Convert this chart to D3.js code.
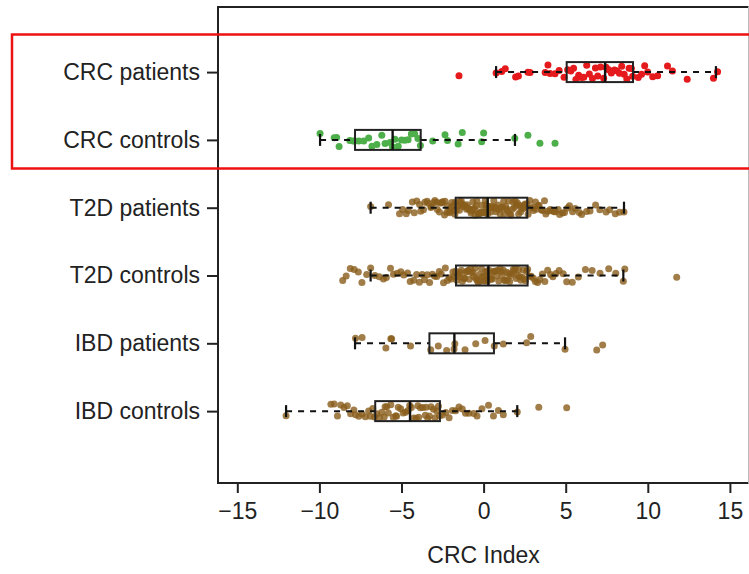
<!DOCTYPE html>
<html>
<head>
<meta charset="utf-8">
<script src="https://cdn.jsdelivr.net/npm/d3@7"></script>
<style>
  html, body { margin: 0; padding: 0; background: #fff; }
  svg { display: block; }
  text { font-family: "Liberation Sans", Arial, Helvetica, sans-serif; fill: #222; }
</style>
</head>
<body>
<div id="chart"></div>
<script>
// Groups, top to bottom
const groups = ["CRC patients", "CRC controls", "T2D patients", "T2D controls", "IBD patients", "IBD controls"];

// Box statistics per group (whisker ends, quartiles, median)
const whiskerLow  = [0.76, -9.96, -6.88, -6.88, -7.83, -12.03];
const quart1      = [5.06, -7.83, -1.70, -1.68, -3.30, -6.60];
const medians     = [7.40, -5.54, 0.25, 0.29, -1.78, -4.48];
const quart3      = [9.10, -3.83, 2.66, 2.68, 0.63, -2.66];
const whiskerHigh = [14.15, 1.91, 8.55, 8.51, 4.96, 2.05];

// Individual CRC index values per group
const crcPatients = [-1.5, 0.76, 1.1, 1.32, 1.95, 2.12, 2.7, 2.83, 3.75, 3.92, 4.05, 4.35, 4.6, 4.9,
  5.12, 5.31, 5.48, 5.62, 5.79, 5.96, 6.1, 6.28, 6.44, 6.63, 6.81, 6.95, 7.12, 7.31,
  7.46, 7.62, 7.78, 7.97, 8.1, 8.27, 8.41, 8.56, 8.72, 8.86, 9.0, 9.08,
  9.42, 9.62, 9.81, 9.99, 10.3, 10.6, 11.2, 11.5, 12.4, 14.0, 14.25];
const crcControls = [-9.96, -9.1, -8.95, -8.8, -8.15, -7.95, -7.85, -7.6, -7.3, -7.0, -6.8, -6.5, -6.2, -6.0,
  -5.7, -5.55, -5.4, -5.2, -5.0, -4.8, -4.6, -4.4, -4.2, -4.0, -3.85, -3.1, -2.35, -2.2, -1.55, -1.3,
  -0.12, 0.0, 1.9, 2.7, 3.43, 4.35];
const t2dPatients = [-6.88, -5.79, -5.12, -4.93, -4.71, -4.58, -4.34, -4.22, -4.07, -3.9, -3.83, -3.66, -3.58,
  -3.44, -3.37, -3.21, -3.18, -3.03, -2.97, -2.86, -2.82, -2.69, -2.64, -2.53, -2.5, -2.38, -2.35, -2.24,
  -2.21, -2.1, -2.06, -1.97, -1.94, -1.86, -1.83, -1.75, -1.72,
  -1.67, -1.58, -1.56, -1.47, -1.45, -1.36, -1.34, -1.25, -1.23, -1.14, -1.12, -1.04, -1.01, -0.96, -0.88,
  -0.85, -0.77, -0.74, -0.66, -0.63, -0.55, -0.52, -0.44, -0.41, -0.33, -0.3, -0.22, -0.19, -0.11, -0.08,
  0.0, 0.03, 0.1, 0.13, 0.17, 0.22, 0.24,
  0.31, 0.36, 0.44, 0.49, 0.57, 0.62, 0.7, 0.75, 0.83, 0.88, 0.96, 1.01, 1.09, 1.14, 1.22, 1.27, 1.35, 1.4,
  1.48, 1.53, 1.61, 1.66, 1.74, 1.79, 1.87, 1.92, 2.0, 2.05, 2.13, 2.18, 2.26, 2.31, 2.39, 2.44, 2.52, 2.57, 2.64,
  2.71, 2.82, 2.87, 2.99, 3.04, 3.16, 3.21, 3.33, 3.38, 3.52, 3.58, 3.71, 3.79, 3.9, 4.06, 4.13, 4.29, 4.38,
  4.54, 4.63, 4.81, 4.93, 5.12, 5.23, 5.42, 5.58, 5.83, 5.97, 6.27, 6.48, 6.82, 7.08, 7.46, 7.68, 8.02, 8.28, 8.55];
const t2dControls = [-8.58, -8.37, -8.12, -7.88, -7.63, -7.41, -7.12, -6.88, -6.62, -6.35, -6.1, -5.92, -5.67,
  -5.49, -5.26, -5.04, -4.86, -4.63, -4.47, -4.25, -4.08, -3.91, -3.74, -3.6, -3.43, -3.29, -3.12, -2.98,
  -2.85, -2.7, -2.58, -2.44, -2.33, -2.2, -2.09, -1.96, -1.87, -1.78, -1.7,
  -1.63, -1.57, -1.48, -1.43, -1.35, -1.29, -1.2, -1.15, -1.07, -1.01, -0.93, -0.87, -0.8, -0.74, -0.66,
  -0.6, -0.52, -0.47, -0.39, -0.33, -0.26, -0.2, -0.13, -0.07, 0.0, 0.05, 0.11, 0.16, 0.21, 0.25, 0.28,
  0.34, 0.39, 0.47, 0.52, 0.6, 0.65, 0.73, 0.79, 0.86, 0.92, 1.0, 1.05, 1.13, 1.19, 1.26, 1.32, 1.4, 1.45,
  1.53, 1.59, 1.66, 1.72, 1.8, 1.86, 1.93, 1.99, 2.07, 2.13, 2.2, 2.27, 2.34, 2.41, 2.47, 2.55, 2.62, 2.68,
  2.78, 2.9, 3.03, 3.15, 3.29, 3.42, 3.58, 3.73, 3.9, 4.08, 4.22, 4.41, 4.6, 4.85, 5.06, 5.4, 5.77, 6.2,
  6.61, 7.09, 7.62, 8.05, 8.51, 8.6, 11.76];
const ibdPatients = [-7.8, -7.4, -5.95, -5.6, -5.65, -4.45, -3.22, -2.76, -2.25, -1.8, -1.75, -1.13, -0.48,
  0.09, 0.65, 1.2, 2.62, 2.87, 4.96, 6.89, 7.25];
const ibdControls = [-12.03, -9.3, -9.1, -8.9, -8.7, -8.5, -8.3, -8.1, -7.9, -7.8, -7.6, -7.4, -7.2, -7.0,
  -6.9, -6.75, -6.65, -6.5, -6.35, -6.2, -6.05, -6.0, -5.9, -5.8, -5.65, -5.5, -5.35, -5.3, -5.2, -5.05,
  -4.9, -4.75, -4.6, -4.5, -4.4, -4.25, -4.1, -4.0, -3.95, -3.85, -3.7, -3.55, -3.5, -3.4, -3.3, -3.2,
  -3.05, -2.95, -2.85, -2.75, -2.68, -2.5, -2.3, -2.1, -1.9, -1.7, -1.5, -1.3, -1.1, -0.9, -0.6, -0.4,
  -0.1, 0.3, 0.6, 0.9, 1.2, 2.05, 3.36, 5.06];

const pointSets = [crcPatients, crcControls, t2dPatients, t2dControls, ibdPatients, ibdControls];
const pointColors = ["#E41A1C", "#4DAF4A", "#8A5E1C", "#8A5E1C", "#8A5E1C", "#8A5E1C"];
const pointOpacity = [1, 1, 0.8, 0.8, 0.8, 0.8];

const xTicks = [-15, -10, -5, 0, 5, 10, 15];
const xTitle = "CRC Index";

// ---- layout ----
const W = 749, H = 574;
const frame = { left: 218, right: 748.5, top: 7, bottom: 483 };

const svg = d3.select("#chart").append("svg")
  .attr("width", W).attr("height", H);

const x = d3.scaleLinear().domain([-15, 15]).range([237.3, 729.9]);
const y = d3.scaleLinear().domain([-0.96, 6.06]).range([frame.top, frame.bottom]);

const boxHalf = 10;      // half box height in px
const jitterPx = 7.5;    // vertical scatter of points

// deterministic vertical scatter for each point (hash of index and group)
function jitter(i, g) {
  const s = Math.sin((i + 1) * 12.9898 + (g + 1) * 78.233) * 43758.5453;
  const u = s - Math.floor(s);
  return (u - 0.5) * 2 * jitterPx;
}

const plot = svg.append("g");

// points
pointSets.forEach((vals, g) => {
  plot.append("g")
    .selectAll("circle")
    .data(vals)
    .join("circle")
    .attr("cx", d => x(d))
    .attr("cy", (d, i) => y(g) + jitter(i, g))
    .attr("r", 3.5)
    .attr("fill", pointColors[g])
    .attr("fill-opacity", pointOpacity[g]);
});

// boxes and whiskers
const boxes = plot.append("g")
  .selectAll("g")
  .data(groups.map((name, i) => ({
    i, lo: whiskerLow[i], q1: quart1[i], med: medians[i], q3: quart3[i], hi: whiskerHigh[i]
  })))
  .join("g");

boxes.append("line")
  .attr("x1", d => x(d.lo)).attr("x2", d => x(d.q1))
  .attr("y1", d => y(d.i)).attr("y2", d => y(d.i))
  .attr("stroke", "#111").attr("stroke-width", 2).attr("stroke-dasharray", "6,6");
boxes.append("line")
  .attr("x1", d => x(d.q3)).attr("x2", d => x(d.hi))
  .attr("y1", d => y(d.i)).attr("y2", d => y(d.i))
  .attr("stroke", "#111").attr("stroke-width", 2).attr("stroke-dasharray", "6,6");
boxes.selectAll("line.cap")
  .data(d => [d.lo, d.hi].map(v => ({ v, i: d.i })))
  .join("line")
  .attr("class", "cap")
  .attr("x1", d => x(d.v)).attr("x2", d => x(d.v))
  .attr("y1", d => y(d.i) - boxHalf * 0.6).attr("y2", d => y(d.i) + boxHalf * 0.6)
  .attr("stroke", "#111").attr("stroke-width", 2.2);
boxes.append("rect")
  .attr("x", d => x(d.q1)).attr("width", d => x(d.q3) - x(d.q1))
  .attr("y", d => y(d.i) - boxHalf).attr("height", boxHalf * 2)
  .attr("fill", "none").attr("stroke", "#222").attr("stroke-width", 2);
boxes.append("line")
  .attr("x1", d => x(d.med)).attr("x2", d => x(d.med))
  .attr("y1", d => y(d.i) - boxHalf).attr("y2", d => y(d.i) + boxHalf)
  .attr("stroke", "#111").attr("stroke-width", 2.4);

// frame
svg.append("path")
  .attr("d", `M${frame.right},${frame.top} H${frame.left} V${frame.bottom} H${frame.right}`)
  .attr("fill", "none").attr("stroke", "#222").attr("stroke-width", 2);
svg.append("line")
  .attr("x1", frame.right).attr("x2", frame.right)
  .attr("y1", frame.top).attr("y2", frame.bottom)
  .attr("stroke", "#bbb").attr("stroke-width", 1);

// x axis
const xAxis = svg.append("g")
  .attr("transform", `translate(0,${frame.bottom})`)
  .call(d3.axisBottom(x).tickValues(xTicks).tickSize(10).tickPadding(10)
    .tickFormat(d => d < 0 ? "\u2212" + Math.abs(d) : String(d)));
xAxis.select(".domain").remove();
xAxis.selectAll(".tick line").attr("stroke", "#222").attr("stroke-width", 2);
xAxis.selectAll(".tick text").attr("font-size", 23).attr("fill", "#222")
  .attr("font-family", "'Liberation Sans', Arial, Helvetica, sans-serif");

svg.append("text")
  .attr("x", x(0)).attr("y", 563)
  .attr("text-anchor", "middle").attr("font-size", 23)
  .text(xTitle);

// y axis
const yAxis = svg.append("g")
  .attr("transform", `translate(${frame.left},0)`)
  .call(d3.axisLeft(y).tickValues(d3.range(groups.length)).tickSize(11).tickPadding(7)
    .tickFormat(i => groups[i]));
yAxis.select(".domain").remove();
yAxis.selectAll(".tick line").attr("stroke", "#222").attr("stroke-width", 2);
yAxis.selectAll(".tick text").attr("font-size", 23).attr("fill", "#222")
  .attr("font-family", "'Liberation Sans', Arial, Helvetica, sans-serif");

// highlight around the CRC groups
svg.append("rect")
  .attr("x", 12).attr("y", 34.5)
  .attr("width", 760).attr("height", 134)
  .attr("fill", "none").attr("stroke", "#EE1111").attr("stroke-width", 2.5);
</script>
</body>
</html>
